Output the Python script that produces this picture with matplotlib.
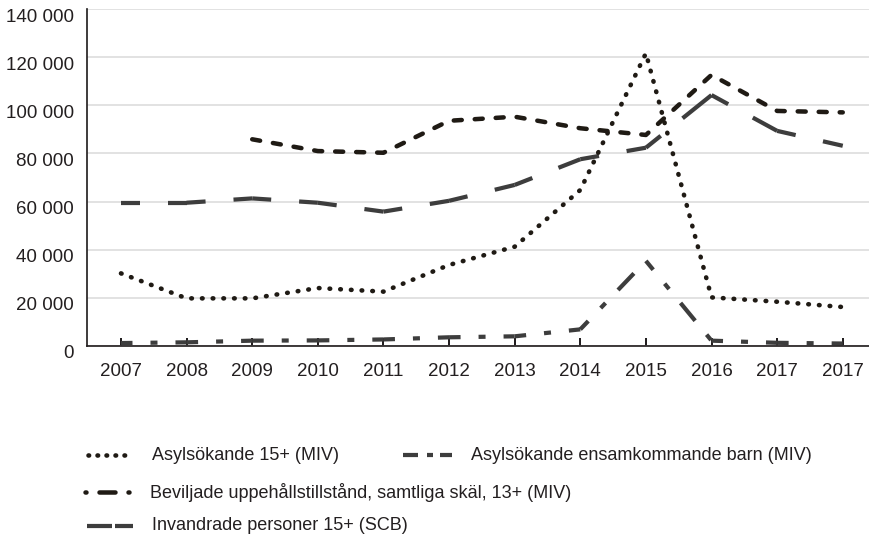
import numpy as np
import matplotlib
matplotlib.use("Agg")
import matplotlib.pyplot as plt
from matplotlib.lines import Line2D
from matplotlib.transforms import ScaledTranslation

plt.rcParams['font.family'] = ['Liberation Sans', 'DejaVu Sans']
plt.rcParams['lines.scale_dashes'] = False

years = ['2007', '2008', '2009', '2010', '2011', '2012',
         '2013', '2014', '2015', '2016', '2017', '2017']
asyl_15 = [30100, 19700, 19700, 24000, 22500, 33600,
           41200, 64800, 121700, 20100, 18300, 16100]
ensamkommande = [1100, 1400, 2100, 2200, 2600, 3500,
                 3900, 6800, 35300, 2100, 1200, 900]
beviljade = [np.nan, np.nan, 85900, 81000, 80300, 93600,
             95300, 90500, 87700, 112700, 97700, 97100]
invandrade = [59500, 59500, 61300, 59500, 55800, 60300,
              66900, 77600, 82400, 104300, 89400, 83200]
yticks = [0, 20000, 40000, 60000, 80000, 100000, 120000, 140000]

labels = ['Asylsökande 15+ (MIV)',
          'Asylsökande ensamkommande barn (MIV)',
          'Beviljade uppehållstillstånd, samtliga skäl, 13+ (MIV)',
          'Invandrade personer 15+ (SCB)']

W, H = 869, 541
PX = 0.72  # points per pixel at dpi 100
BLACK = '#1f1a14'
GRAY = '#3d3d3d'
TEXT = '#231f20'


def dash(*px):
    return tuple(v * PX for v in px)


dotted = dict(color=BLACK, lw=4.6 * PX, linestyle=(0, dash(0.6, 10.1)),
              dash_capstyle='round')
dashed = dict(color=BLACK, lw=4.5 * PX, linestyle=(0, dash(8, 13)),
              dash_capstyle='round')
longdash = dict(color=GRAY, lw=4.2 * PX, linestyle=(19 * PX, dash(38, 28)),
                dash_capstyle='butt')
dashdot = dict(color=GRAY, lw=4.2 * PX, linestyle=(11.5 * PX, dash(23, 18, 7, 18)),
               dash_capstyle='butt')


def plot_segments(ax, x, y, **kw):
    # restart the dash pattern at every data point
    for i in range(len(x) - 1):
        ax.plot(x[i:i + 2], y[i:i + 2], **kw)


fig = plt.figure(figsize=(W / 100, H / 100), dpi=100)
ax = fig.add_axes([87 / W, (H - 345.7) / H, 1 - 87 / W, 336.4 / H])

x = np.arange(len(years))
plot_segments(ax, x, ensamkommande, **dashdot)
plot_segments(ax, x, invandrade, **longdash)
ax.plot(x, beviljade, **dashed)
ax.plot(x, asyl_15, **dotted)

ax.set_xlim(-0.518, 11.4)
ax.set_ylim(0, 140000)
ax.set_xticks(x)
ax.set_xticklabels(years)
ax.set_yticks(yticks)
ax.set_yticklabels([f"{v:,}".replace(',', ' ') for v in yticks])

ax.yaxis.grid(True, color='#d9d9d9', lw=1.5 * PX)
ax.set_axisbelow(True)
for side in ['top', 'right']:
    ax.spines[side].set_visible(False)
for side in ['left', 'bottom']:
    ax.spines[side].set_color(TEXT)
    ax.spines[side].set_linewidth(1.7 * PX)
    ax.spines[side].set_zorder(5)

ax.tick_params(axis='y', length=0, pad=9.4, labelsize=13.5, labelcolor=TEXT)
ax.tick_params(axis='x', direction='in', length=8 * PX, width=2 * PX,
               color=TEXT, pad=12.5, labelsize=13.5, labelcolor=TEXT)
shift = ScaledTranslation(0, -6 / 100, fig.dpi_scale_trans)
for lab in ax.get_yticklabels():
    lab.set_transform(lab.get_transform() + shift)

# legend drawn by hand: two entries on the first row, one on each after
legend_rows = [
    (88, 133, 455, labels[0], dict(dotted, linestyle=(0, dash(0.6, 8.4)))),
    (403, 452, 455, labels[1], dict(dashdot, linestyle=(0, dash(15, 9, 6, 7, 12, 50)))),
    (85, 131, 492, labels[2], dict(dashed, linestyle=(0, dash(1, 13, 16, 13, 1, 50)))),
    (87, 133, 526, labels[3], dict(longdash, linestyle=(0, dash(25, 3, 18, 50)))),
]
for x0, x1, yy, text, style in legend_rows:
    fig.add_artist(Line2D([x0 / W, x1 / W], [1 - yy / H] * 2,
                          transform=fig.transFigure, **style))
    fig.text((x1 + 19) / W, 1 - yy / H, text, va='center', ha='left',
             fontsize=13, color=TEXT)

fig.savefig('out.png', dpi=100)
